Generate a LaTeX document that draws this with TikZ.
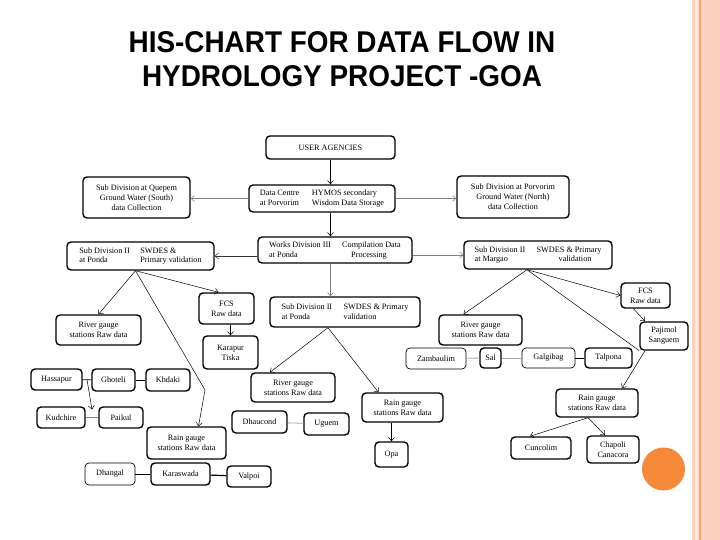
\documentclass[tikz,border=0pt]{standalone}
\usepackage{graphicx}
\usepackage{fontspec}
\setmainfont{Liberation Serif}
\newfontfamily\titlefont{Liberation Sans}
\usetikzlibrary{arrows.meta,calc}
\definecolor{peach}{HTML}{FAD0BE}
\definecolor{peachlight}{HTML}{FDEAE1}
\definecolor{stripe}{HTML}{F4A77F}
\definecolor{dotorange}{HTML}{F7893B}
\tikzset{
  box/.style={draw=black, line width=1.4pt, rounded corners=4pt, fill=white, inner sep=0pt, align=center, font=\fontsize{8.2}{10}\selectfont},
  thinbox/.style={box, line width=0.7pt},
  sz/.style 2 args={minimum width=#1pt, minimum height=#2pt},
  arr/.style={-{Straight Barb[length=3.5pt,width=6pt]}, line width=0.5pt},
  garr/.style={arr, draw=gray},
  link/.style={line width=0.8pt},
  glink/.style={line width=0.8pt, draw=gray!70},
  titletext/.style={anchor=base, font=\titlefont\bfseries\fontsize{30}{30}\selectfont}
}
\begin{document}
\begin{tikzpicture}[x=1pt,y=-1pt]
\useasboundingbox (0,0) rectangle (720,540);
\fill[white] (0,0) rectangle (720,540);
% right decoration
\fill[peach] (692,0) rectangle (720,540);
\fill[peachlight] (694.5,0) rectangle (697.5,540);
\draw[stripe, line width=1.4pt] (700,0) -- (700,540);
\fill[dotorange] (663.5,469) circle (21.5);

% title
\node[titletext] (t1) at (342,53) {\scalebox{0.93}[1]{HIS-CHART FOR DATA FLOW IN}};
\node[titletext] (t2) at (342,87) {\scalebox{0.93}[1]{HYDROLOGY PROJECT -GOA}};

% top level
\node[box,sz={129}{23}] (ua) at (330.5,147.5) {USER AGENCIES};
\node[box,sz={146}{27}] (dc) at (322,198.5) {\begin{tabular}{@{}p{52pt}@{}l@{}}Data Centre & HYMOS secondary\\at Porvorim & Wisdom Data Storage\end{tabular}};
\node[box,sz={154}{26}] (wd) at (335,250) {\begin{tabular}{@{}p{73pt}@{}l@{}}Works Division III & Compilation Data\\at Ponda & \hspace{9pt}Processing\end{tabular}};
\node[box,sz={107}{41}] (qp) at (136.5,197.5) {Sub Division at Quepem\\Ground Water (South)\\data Collection};
\node[box,sz={112}{42}] (pv) at (513,197) {Sub Division at Porvorim\\Ground Water (North)\\data Collection};
\node[box,sz={147}{28}] (lp) at (140.5,256) {\begin{tabular}{@{}p{61pt}@{}l@{}}Sub Division II & SWDES \&\\at Ponda & Primary validation\end{tabular}};
\node[box,sz={148}{28}] (mg) at (538,255) {\begin{tabular}{@{}p{62pt}@{}l@{}}Sub Division II & SWDES \& Primary\\at Margao & \hspace{22pt}validation\end{tabular}};
\node[box,sz={150}{30}] (mp) at (345,312) {\begin{tabular}{@{}p{62pt}@{}l@{}}Sub Division II & SWDES \& Primary\\at Ponda & validation\end{tabular}};

% left branch
\node[box,sz={55}{31}] (fcsl) at (226.5,308.5) {FCS\\Raw data};
\node[box,sz={55}{33}] (kt) at (230.5,352.5) {Karapur\\Tiska};
\node[box,sz={85}{30}] (rgl) at (98.5,330) {River gauge\\stations Raw data};
\node[box,sz={51}{21}] (hs) at (56.5,379.5) {Hassapur};
\node[box,sz={43}{22}] (gh) at (113.5,380) {Ghoteli};
\node[box,sz={44}{22}] (kd) at (168,380) {Khdaki};
\node[box,sz={48}{21}] (kc) at (61,417.5) {Kudchire};
\node[box,sz={44}{21}] (pk) at (121,417.5) {Paikul};
\node[box,sz={79}{32}] (rgb) at (186.5,443) {Rain gauge\\stations Raw data};
\node[thinbox,sz={50}{22}] (dh) at (110,474) {Dhangal};
\node[box,sz={59}{22}] (ks) at (180.5,474) {Karaswada};
\node[box,sz={44}{21}] (vp) at (249,476.5) {Valpoi};

% middle branch
\node[box,sz={84}{29}] (rgm) at (293,387.5) {River gauge\\stations Raw data};
\node[box,sz={81}{29}] (rnm) at (402.5,407.5) {Rain gauge\\stations Raw data};
\node[box,sz={33}{25}] (opa) at (391.5,454.5) {Opa};
\node[box,sz={55}{22}] (dhc) at (259.5,422) {Dhaucond};
\node[box,sz={45}{22}] (ug) at (326.5,424) {Uguem};

% right branch
\node[box,sz={83}{30}] (rgr) at (480.5,330) {River gauge\\stations Raw data};
\node[box,sz={49}{25}] (fcsr) at (645.5,295.5) {FCS\\Raw data};
\node[box,sz={48}{28}] (pj) at (664,336) {Pajimol\\Sanguem};
\node[thinbox,sz={60}{21}] (zb) at (436,358.5) {Zambaulim};
\node[box,sz={21}{20}] (sal) at (490.5,358) {Sal};
\node[thinbox,sz={53}{20}] (gb) at (548.5,358) {Galgibag};
\node[box,sz={47}{20}] (tp) at (608.5,358) {Talpona};
\node[box,sz={82}{28}] (rnr) at (597,403) {Rain gauge\\stations Raw data};
\node[box,sz={60}{22}] (cc) at (541,448) {Cuncolim};
\node[box,sz={52}{27}] (ch) at (613,449.5) {Chapoli\\Canacora};

% helper coordinates
\coordinate (lpo) at ([xshift=-5pt]lp.south);
\coordinate (mpo) at ([xshift=-17pt]mp.south);
\coordinate (mgo) at ([xshift=-11pt]mg.south);
\coordinate (rnro) at ([xshift=-9pt]rnr.south);
\coordinate (lbend) at (205,390);
\coordinate (hsgh) at ($(hs.east)!0.5!(gh.west)$);
\coordinate (kcpk) at ($(kc.east)!0.5!(pk.west)$);

% top connectors
\draw[arr] (ua.south) -- (ua.south |- dc.north);
\draw[arr] (ua.south |- dc.south) -- (ua.south |- wd.north);
\draw[arr, draw=gray] (ua.south |- wd.south) -- (ua.south |- mp.north);
\draw[garr] (dc.west) -- (qp.east |- dc.west);
\draw[garr] (dc.east) -- (pv.west |- dc.east);
\draw[arr, draw=black!80] (wd.west |- lp.east) -- (lp.east);
\draw[garr] (wd.east |- mg.west) -- (mg.west);

% left branch connectors
\draw[arr] (lpo) -- (rgl.north);
\draw[arr] (lpo) -- ([xshift=-8pt]fcsl.north);
\draw[arr] (lpo) -- (lbend) -- ([xshift=12pt]rgb.north);
\draw[arr] (kt.north |- fcsl.south) -- (kt.north);
\draw[link] (hs) -- (gh);
\draw[link] (gh) -- (kd);
\draw[link, draw=gray] (kc) -- (pk);
\draw[arr] (hsgh) -- ([yshift=8pt]kcpk);
\draw[link] (dh) -- (ks);
\draw[link, line width=1.2pt] (ks) -- (vp);

% middle branch connectors
\draw[arr] (mpo) -- ([xshift=-23pt]rgm.north);
\draw[arr] (mpo) -- ([xshift=-24pt]rnm.north);
\draw[arr] (opa.north |- rnm.south) -- (opa.north);
\draw[glink] (dhc) -- (ug);

% right branch connectors
\draw[arr] (mgo) -- ([xshift=-17pt]rgr.north);
\draw[arr] (mgo) -- (fcsr.west);
\draw[line width=0.5pt] (mgo) -- (pj.south west);
\draw[arr] ([xshift=-12pt]fcsr.south) -- ([xshift=-19pt]pj.north);
\draw[arr] ([xshift=-19pt]pj.south) -- ([xshift=25pt]rnr.north);
\draw[glink] (zb) -- (sal);
\draw[glink] (sal) -- (gb);
\draw[link] (gb) -- (tp);
\draw[arr] (rnro) -- ([xshift=-11pt]cc.north);
\draw[arr] (rnro) -- ([xshift=-8pt]ch.north);
\end{tikzpicture}
\end{document}
